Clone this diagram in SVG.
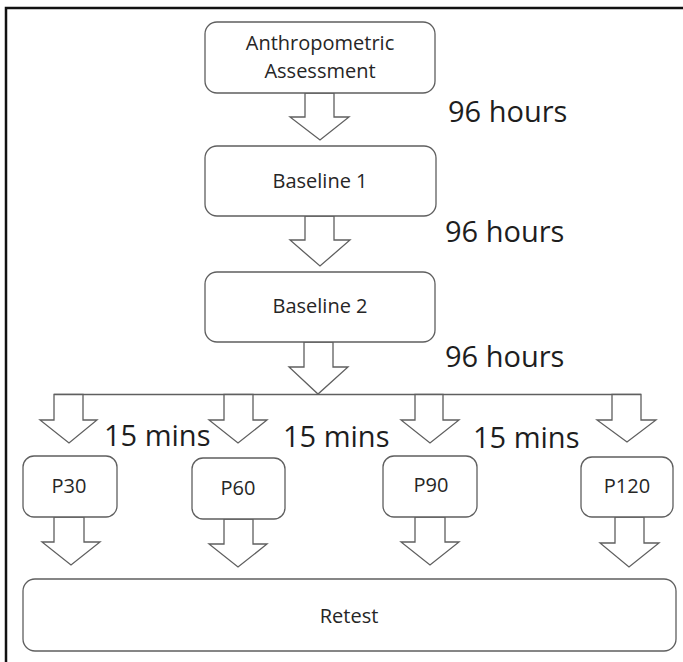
<svg xmlns="http://www.w3.org/2000/svg" width="683" height="662" viewBox="0 0 683 662">
<style>
.box{fill:#fff;stroke:#5f5f5f;stroke-width:1.3}
.arr{fill:#fff;stroke:#5f5f5f;stroke-width:1.3;stroke-linejoin:miter}
.t{font-family:"Open Sans","Noto Sans",sans-serif;font-size:20px;fill:#262626;text-anchor:middle}
.big{font-family:"Open Sans","Noto Sans",sans-serif;font-size:29px;fill:#1e1e1e}
</style>
<rect width="683" height="662" fill="#fff"/>
<path d="M6,662 V8 H683" fill="none" stroke="#111" stroke-width="2.5"/>
<g id="connectors">
<polygon class="arr" points="305,93 305,117 290,117 320,140 349,117 334,117 334,93"/>
<polygon class="arr" points="305,216 305,240 290,240 320,266 350,240 334,240 334,216"/>
<polygon class="arr" points="304,342 304,367 289,367 318,394 348,367 333,367 333,342"/>
<line x1="54" y1="394.5" x2="641" y2="394.5" stroke="#5f5f5f" stroke-width="1.3"/>
<polygon class="arr" points="54,394.5 54,420 40,420 69,443 97,420 83,420 83,394.5"/>
<polygon class="arr" points="224,394.5 224,420 209,420 238,443 267,420 253,420 253,394.5"/>
<polygon class="arr" points="415,394.5 415,420 401,420 430,443 459,420 443,420 443,394.5"/>
<polygon class="arr" points="612,394.5 612,420 597,420 627,442 656,420 641,420 641,394.5"/>
<polygon class="arr" points="54,517 54,542 42,542 71,565 100,542 84,542 84,517"/>
<polygon class="arr" points="224,519 224,544 209,544 238,567 267,544 253,544 253,519"/>
<polygon class="arr" points="415,517 415,542 401,542 430,565 459,542 445,542 445,517"/>
<polygon class="arr" points="615,517 615,543 600,543 629,567 659,543 644,543 644,517"/>
</g>
<g id="anthro"><rect class="box" x="205" y="22" width="230" height="71" rx="12"/>
<text class="t" x="320" y="50">Anthropometric</text><text class="t" x="320" y="78">Assessment</text></g>
<g id="baseline1"><rect class="box" x="205" y="146" width="231" height="70" rx="12"/>
<text class="t" x="320" y="188">Baseline 1</text></g>
<g id="baseline2"><rect class="box" x="205" y="272" width="230" height="70" rx="12"/>
<text class="t" x="320" y="313">Baseline 2</text></g>
<g id="p30"><rect class="box" x="23" y="456" width="94" height="61" rx="11"/>
<text class="t" x="69" y="493">P30</text></g>
<g id="p60"><rect class="box" x="192" y="458" width="93" height="61" rx="11"/>
<text class="t" x="238" y="495">P60</text></g>
<g id="p90"><rect class="box" x="383" y="456" width="94" height="61" rx="11"/>
<text class="t" x="431" y="492">P90</text></g>
<g id="p120"><rect class="box" x="581" y="457" width="92" height="60" rx="11"/>
<text class="t" x="627" y="493">P120</text></g>
<g id="retest"><rect class="box" x="23" y="579" width="653" height="72" rx="12"/>
<text class="t" x="349" y="623">Retest</text></g>
<g id="labels">
<text class="big" x="448" y="122">96 hours</text>
<text class="big" x="445" y="242">96 hours</text>
<text class="big" x="445" y="367">96 hours</text>
<text class="big" x="104" y="446">15 mins</text>
<text class="big" x="283" y="447">15 mins</text>
<text class="big" x="473" y="448">15 mins</text>
</g>
</svg>
